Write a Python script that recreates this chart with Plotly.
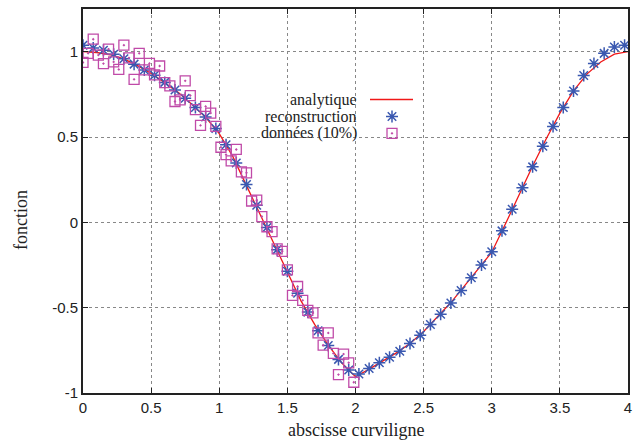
import plotly.graph_objects as go

# analytic curve samples
x_ana = [0.0, 0.1, 0.2, 0.3, 0.4, 0.5, 0.6, 0.7, 0.8, 0.9, 1.0, 1.1, 1.2, 1.3, 1.4, 1.5,
         1.6, 1.7, 1.8, 1.9, 2.0, 2.1, 2.2, 2.3, 2.4, 2.5, 2.6, 2.7, 2.8, 2.9, 3.0, 3.1,
         3.2, 3.3, 3.4, 3.5, 3.6, 3.7, 3.8, 3.9, 4.0]
y_ana = [1.0, 0.995, 0.982, 0.958, 0.918, 0.873, 0.818, 0.76, 0.69, 0.615, 0.52, 0.385,
         0.215, 0.045, -0.13, -0.295, -0.46, -0.598, -0.72, -0.825, -0.905, -0.86, -0.812,
         -0.765, -0.71, -0.64, -0.555, -0.47, -0.372, -0.272, -0.175, -0.01, 0.165, 0.33,
         0.49, 0.64, 0.77, 0.87, 0.94, 0.985, 1.0]

# reconstruction
x_rec = [0.0, 0.075, 0.15, 0.225, 0.3, 0.375, 0.45, 0.525, 0.6, 0.675, 0.75, 0.825, 0.9,
         0.975, 1.05, 1.125, 1.2, 1.275, 1.35, 1.425, 1.5, 1.575, 1.65, 1.725, 1.8, 1.875,
         1.95, 2.025, 2.1, 2.175, 2.25, 2.325, 2.4, 2.475, 2.55, 2.625, 2.7, 2.775, 2.85,
         2.925, 3.0, 3.075, 3.15, 3.225, 3.3, 3.375, 3.45, 3.525, 3.6, 3.675, 3.75, 3.825,
         3.9, 3.975]
y_rec = [1.038, 1.022, 1.008, 0.985, 0.958, 0.927, 0.893, 0.862, 0.82, 0.775, 0.727, 0.673,
         0.617, 0.55, 0.455, 0.348, 0.222, 0.10, -0.03, -0.16, -0.287, -0.415, -0.526,
         -0.635, -0.722, -0.803, -0.865, -0.889, -0.856, -0.823, -0.79, -0.755, -0.71,
         -0.661, -0.599, -0.539, -0.473, -0.399, -0.325, -0.25, -0.172, -0.05, 0.077, 0.203,
         0.325, 0.446, 0.562, 0.673, 0.77, 0.86, 0.931, 0.99, 1.027, 1.038]

# noisy data (10%)
x_dat = [0.0, 0.0375, 0.075, 0.1125, 0.15, 0.1875, 0.225, 0.2625, 0.3, 0.3375, 0.375, 0.4125,
         0.45, 0.4875, 0.525, 0.5625, 0.6, 0.6375, 0.675, 0.7125, 0.75, 0.7875, 0.825,
         0.8625, 0.9, 0.9375, 0.975, 1.0125, 1.05, 1.0875, 1.125, 1.1625, 1.2, 1.2375, 1.275,
         1.3125, 1.35, 1.3875, 1.425, 1.4625, 1.5, 1.5375, 1.575, 1.6125, 1.65, 1.6875, 1.725,
         1.7625, 1.8, 1.8375, 1.875, 1.9125, 1.95, 1.9875]
y_dat = [0.937, 0.99, 1.073, 0.98, 0.93, 1.015, 0.94, 0.896, 1.038, 0.964, 0.838, 0.99,
         0.893, 0.931, 0.864, 0.916, 0.819, 0.80, 0.708, 0.718, 0.829, 0.743, 0.66, 0.568,
         0.679, 0.64, 0.562, 0.44, 0.397, 0.36, 0.427, 0.296, 0.29, 0.125, 0.13, 0.034,
         -0.026, -0.055, -0.156, -0.17, -0.279, -0.428, -0.376, -0.457, -0.516, -0.531,
         -0.648, -0.72, -0.648, -0.768, -0.892, -0.772, -0.823, -0.937]

x_ticks = [0, 0.5, 1, 1.5, 2, 2.5, 3, 3.5, 4]
x_ticktext = ["0", "0.5", "1", "1.5", "2", "2.5", "3", "3.5", "4"]
y_ticks = [-1, -0.5, 0, 0.5, 1]
y_ticktext = ["-1", "-0.5", "0", "0.5", "1"]

legend_names = ["analytique", "reconstruction", "données (10%)"]

RED = "#f01818"
BLUE = "#3a58b0"
MAG = "#c04aa8"
SERIF = "Liberation Serif"
SANS = "Liberation Sans"

# plot-area geometry in pixels (for placing the gnuplot-style key)
L, R, T, B = 83, 628, 7, 393
W, H = R - L, B - T
def px(x):
    return (x - L) / W
def py(y):
    return (B - y) / H

key_rows = [98, 115, 132]
key_text_right = 358
key_sample = (370, 413)
key_mid = 392

fig = go.Figure()
fig.add_trace(go.Scatter(x=x_ana, y=y_ana, mode="lines", name=legend_names[0],
                         line=dict(color=RED, width=1.3), showlegend=False))
fig.add_trace(go.Scatter(x=x_rec, y=y_rec, mode="markers", name=legend_names[1],
                         marker=dict(symbol="asterisk-open", size=10, color=BLUE,
                                     line=dict(color=BLUE, width=1.5)), showlegend=False))
fig.add_trace(go.Scatter(x=x_dat, y=y_dat, mode="markers", name=legend_names[2],
                         marker=dict(symbol="square-open-dot", size=10, color=MAG,
                                     line=dict(color=MAG, width=1.3)), showlegend=False))

# key samples on a hidden overlay axis in plot-fraction units
fig.add_trace(go.Scatter(x=[px(key_sample[0]), px(key_sample[1])],
                         y=[py(key_rows[0])] * 2, mode="lines", xaxis="x2", yaxis="y2",
                         line=dict(color=RED, width=1.6), showlegend=False, hoverinfo="skip"))
fig.add_trace(go.Scatter(x=[px(key_mid)], y=[py(key_rows[1])], mode="markers",
                         xaxis="x2", yaxis="y2", showlegend=False, hoverinfo="skip",
                         marker=dict(symbol="asterisk-open", size=10, color=BLUE,
                                     line=dict(color=BLUE, width=1.5))))
fig.add_trace(go.Scatter(x=[px(key_mid)], y=[py(key_rows[2])], mode="markers",
                         xaxis="x2", yaxis="y2", showlegend=False, hoverinfo="skip",
                         marker=dict(symbol="square-open-dot", size=10, color=MAG,
                                     line=dict(color=MAG, width=1.3))))

axis_common = dict(showline=True, linecolor="#222", linewidth=2, mirror="ticks",
                   ticks="inside", ticklen=5, tickcolor="#222", tickwidth=1,
                   showgrid=True, gridcolor="#888", griddash="dot", gridwidth=1,
                   zeroline=False, tickfont=dict(family=SANS, size=15, color="#222"))

fig.update_xaxes(range=[0, 4], tickmode="array", tickvals=x_ticks, ticktext=x_ticktext,
                 **axis_common)
fig.update_yaxes(range=[-1, 1.25], tickmode="array", tickvals=y_ticks, ticktext=y_ticktext,
                 **axis_common)

annots = []
for name, row in zip(legend_names, key_rows):
    annots.append(dict(text=name, xref="paper", yref="paper",
                       x=px(key_text_right), y=py(row),
                       xanchor="right", yanchor="middle", showarrow=False, borderpad=0,
                       font=dict(family=SERIF, size=16, color="#222")))
annots.append(dict(text="abscisse curviligne", xref="paper", yref="paper",
                   x=0.5, y=py(430), xanchor="center", yanchor="middle",
                   showarrow=False, font=dict(family=SERIF, size=18, color="#222")))
annots.append(dict(text="fonction", xref="paper", yref="paper", textangle=-90,
                   x=px(21), y=py(219), xanchor="center",
                   yanchor="middle", showarrow=False,
                   font=dict(family=SERIF, size=18, color="#222")))

fig.update_layout(
    width=642, height=441,
    margin=dict(l=L, r=642 - R, t=T, b=441 - B),
    paper_bgcolor="white", plot_bgcolor="white",
    annotations=annots,
    showlegend=False,
    xaxis2=dict(overlaying="x", range=[0, 1], visible=False, fixedrange=True),
    yaxis2=dict(overlaying="y", range=[0, 1], visible=False, fixedrange=True),
)

fig.write_html("out.html")
